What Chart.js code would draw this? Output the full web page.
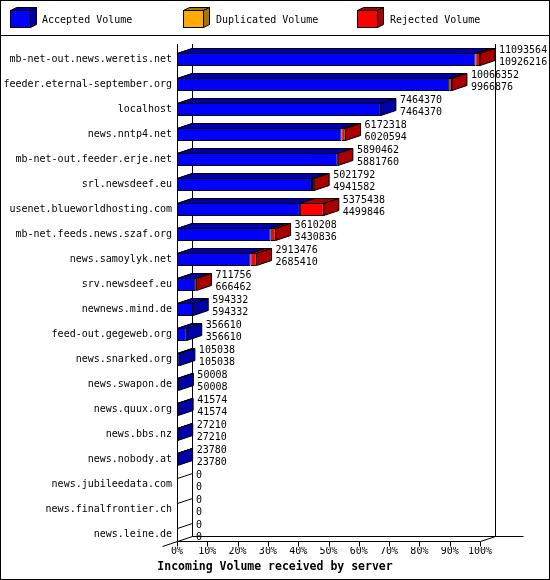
<!DOCTYPE html>
<html>
<head>
<meta charset="utf-8">
<script src="https://cdn.jsdelivr.net/npm/chart.js@4.4.1/dist/chart.umd.min.js"></script>
<style>
  html, body { margin: 0; padding: 0; background: #fff; }
  canvas { display: block; }
</style>
</head>
<body>
<canvas id="c" width="550" height="580"></canvas>
<script>
const categories = [
  'mb-net-out.news.weretis.net',
  'feeder.eternal-september.org',
  'localhost',
  'news.nntp4.net',
  'mb-net-out.feeder.erje.net',
  'srl.newsdeef.eu',
  'usenet.blueworldhosting.com',
  'mb-net.feeds.news.szaf.org',
  'news.samoylyk.net',
  'srv.newsdeef.eu',
  'newnews.mind.de',
  'feed-out.gegeweb.org',
  'news.snarked.org',
  'news.swapon.de',
  'news.quux.org',
  'news.bbs.nz',
  'news.nobody.at',
  'news.jubileedata.com',
  'news.finalfrontier.ch',
  'news.leine.de'
];
const accepted = [10926216, 9966876, 7464370, 6020594, 5881760, 4941582, 4499846, 3430836, 2685410, 666462,
                  594332, 356610, 105038, 50008, 41574, 27210, 23780, 0, 0, 0];
const duplicated = [0, 0, 0, 0, 0, 0, 0, 0, 0, 0, 0, 0, 0, 0, 0, 0, 0, 0, 0, 0];
const rejected = [167348, 99476, 0, 151724, 8702, 80210, 875592, 179372, 228066, 45294,
                  0, 0, 0, 0, 0, 0, 0, 0, 0, 0];
const seriesNames = ['Accepted Volume', 'Duplicated Volume', 'Rejected Volume'];
const tickLabels = ['0%', '10%', '20%', '30%', '40%', '50%', '60%', '70%', '80%', '90%', '100%'];
const chartTitle = 'Incoming Volume received by server';

const frontColors = ['#0000ff', '#ffaa00', '#ff0000'];
const darkColors = ['#0000a8', '#aa7400', '#a80000'];
const FONT = 'DejaVu Sans Mono';

const totals = categories.map((_, i) => accepted[i] + duplicated[i] + rejected[i]);
const maxTotal = Math.max(...totals);
const DX = 15, DY = 5;

function poly(ctx, pts, fill) {
  ctx.beginPath();
  ctx.moveTo(pts[0][0], pts[0][1]);
  for (let k = 1; k < pts.length; k++) ctx.lineTo(pts[k][0], pts[k][1]);
  ctx.closePath();
  if (fill) { ctx.fillStyle = fill; ctx.fill(); }
  ctx.strokeStyle = '#000';
  ctx.lineWidth = 1;
  ctx.stroke();
}
function line(ctx, x1, y1, x2, y2) {
  ctx.beginPath();
  ctx.moveTo(x1, y1);
  ctx.lineTo(x2, y2);
  ctx.strokeStyle = '#000';
  ctx.lineWidth = 1;
  ctx.stroke();
}

const deco = {
  id: 'deco',
  beforeDraw(chart) {
    const ctx = chart.ctx;
    ctx.save();
    ctx.fillStyle = '#fff';
    ctx.fillRect(0, 0, chart.width, chart.height);
    ctx.restore();
  },
  beforeDatasetsDraw(chart) {
    const ctx = chart.ctx, xs = chart.scales.x, ys = chart.scales.y;
    const x0 = Math.round(xs.getPixelForValue(0)) + 0.5;
    const x1 = Math.round(xs.getPixelForValue(maxTotal)) + 0.5;
    const top = chart.chartArea.top - 3;
    const n = categories.length;
    const axisY = Math.round(ys.getPixelForValue(n - 1) + 6) + 0.5;
    ctx.save();
    // back walls
    line(ctx, x0 + DX, top, x0 + DX, axisY - DY);
    line(ctx, x1 + DX, top, x1 + DX, axisY - DY);
    // back floor
    line(ctx, x0 + DX, axisY - DY, x1 + DX + 28, axisY - DY);
    // front axes
    line(ctx, x0, top, x0, axisY);
    line(ctx, x0, axisY, x1, axisY);
    line(ctx, x0 - DX, axisY + DY, x0 + DX, axisY - DY);
    line(ctx, x1, axisY, x1 + DX, axisY - DY);
    // ticks
    xs.ticks.forEach(t => {
      const px = Math.round(xs.getPixelForValue(t.value)) + 0.5;
      line(ctx, px, axisY, px, axisY + 5);
    });
    // row diagonals on left wall
    for (let i = 0; i < n; i++) {
      const c = ys.getPixelForValue(i);
      const t = Math.round(c - 6.5) + 0.5;
      line(ctx, x0, t, x0 + DX, t - DY);
    }
    ctx.restore();
  },
  afterDatasetsDraw(chart) {
    const ctx = chart.ctx;
    const n = categories.length;
    ctx.save();
    for (let i = 0; i < n; i++) {
      let lastIdx = -1, endX = null, topY = null, botY = null;
      for (let d = 0; d < chart.data.datasets.length; d++) {
        const el = chart.getDatasetMeta(d).data[i];
        const p = el.getProps(['x', 'y', 'base', 'height'], true);
        const t = Math.round(p.y - p.height / 2) + 0.5;
        const b = Math.round(p.y + p.height / 2) - 0.5;
        topY = t; botY = b;
        if (endX === null) endX = p.base;
        const v = chart.data.datasets[d].data[i];
        if (v > 0) {
          poly(ctx, [[p.base, t], [p.x, t], [p.x + DX, t - DY], [p.base + DX, t - DY]], darkColors[d]);
          lastIdx = d;
          endX = p.x;
        }
      }
      if (lastIdx >= 0) {
        poly(ctx, [[endX, topY], [endX + DX, topY - DY], [endX + DX, botY - DY], [endX, botY]], darkColors[lastIdx]);
      }
      const tx = endX + DX + 4;
      ctx.fillStyle = '#000';
      ctx.font = '10px "' + FONT + '"';
      ctx.textAlign = 'left';
      ctx.textBaseline = 'middle';
      ctx.fillText(String(totals[i]), tx, topY - 3);
      ctx.fillText(String(accepted[i]), tx, topY + 9);
    }
    ctx.restore();
  },
  afterDraw(chart) {
    const ctx = chart.ctx;
    ctx.save();
    // legend
    const lx = [10, 183, 357], tx = [42, 216, 390];
    ctx.font = '10px "' + FONT + '"';
    ctx.textAlign = 'left';
    ctx.textBaseline = 'middle';
    for (let k = 0; k < 3; k++) {
      const x = lx[k] + 0.5, y = 10.5, w = 20, h = 17;
      poly(ctx, [[x, y], [x + w, y], [x + w + 6, y - 3], [x + 6, y - 3]], darkColors[k]);
      poly(ctx, [[x + w, y], [x + w + 6, y - 3], [x + w + 6, y + h - 3], [x + w, y + h]], darkColors[k]);
      ctx.fillStyle = frontColors[k];
      ctx.fillRect(x, y, w, h);
      ctx.strokeStyle = '#000';
      ctx.strokeRect(x, y, w, h);
      ctx.fillStyle = '#000';
      ctx.fillText(seriesNames[k], tx[k], 20);
    }
    line(ctx, 0, 35.5, chart.width, 35.5);
    // title
    ctx.font = 'bold 11.5px "' + FONT + '"';
    ctx.textAlign = 'center';
    ctx.fillStyle = '#000';
    ctx.fillText(chartTitle, chart.width / 2, 567);
    // outer border
    ctx.strokeStyle = '#000';
    ctx.lineWidth = 1;
    ctx.strokeRect(0.5, 0.5, chart.width - 1, chart.height - 1);
    ctx.restore();
  }
};

const datasets = [accepted, duplicated, rejected].map((arr, d) => ({
  label: seriesNames[d],
  data: arr,
  backgroundColor: frontColors[d],
  borderColor: '#000',
  borderWidth: 1,
  borderSkipped: false,
  barThickness: 13,
  inflateAmount: 0
}));

new Chart(document.getElementById('c'), {
  type: 'bar',
  data: { labels: categories, datasets },
  options: {
    indexAxis: 'y',
    responsive: false,
    animation: false,
    devicePixelRatio: 1,
    layout: { padding: { top: 47, right: 70, bottom: 0, left: 0 } },
    plugins: {
      legend: { display: false },
      tooltip: { enabled: false },
      title: { display: false }
    },
    scales: {
      x: {
        type: 'linear',
        stacked: true,
        min: 0,
        max: maxTotal,
        grid: { display: false, drawTicks: false },
        border: { display: false },
        afterBuildTicks: (scale) => {
          scale.ticks = tickLabels.map((_, i) => ({ value: maxTotal * i / 10 }));
        },
        afterFit: (scale) => { scale.height = 33; },
        ticks: {
          padding: -2,
          autoSkip: false,
          maxRotation: 0,
          color: '#000',
          font: { family: FONT, size: 10 },
          callback: (v, i) => tickLabels[i]
        }
      },
      y: {
        stacked: true,
        grid: { display: false, drawTicks: false },
        border: { display: false },
        afterFit: (scale) => { scale.width = 177; },
        ticks: {
          padding: 5,
          autoSkip: false,
          color: '#000',
          font: { family: FONT, size: 10 }
        }
      }
    }
  },
  plugins: [deco]
});
</script>
</body>
</html>
